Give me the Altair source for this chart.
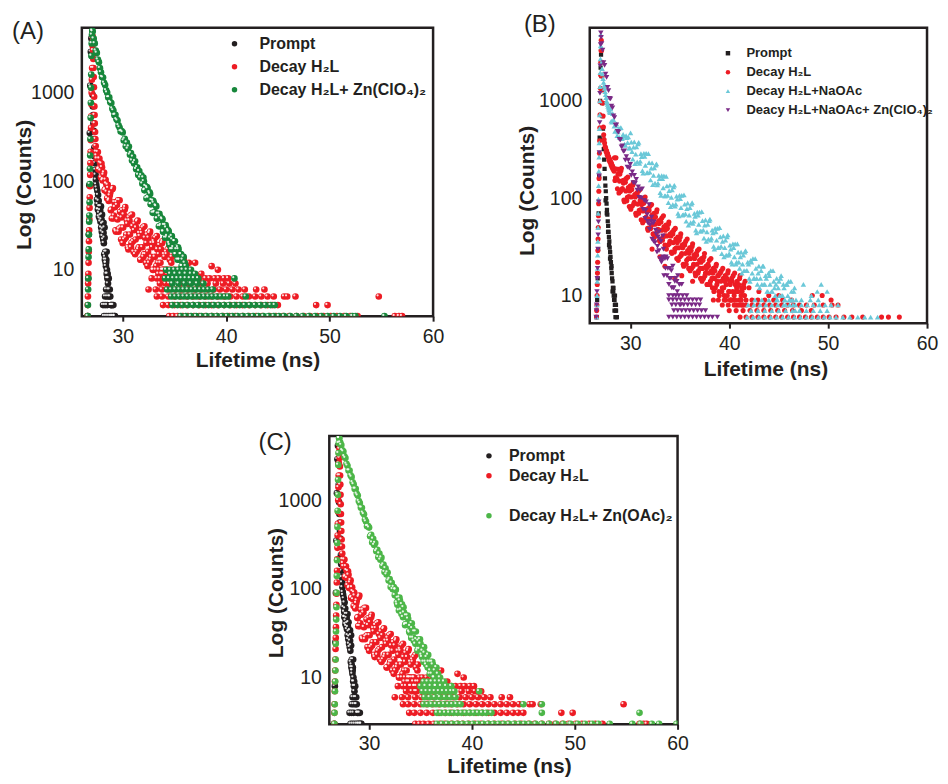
import altair as alt
import pandas as pd

FONT = "Liberation Sans"
INK = "#231f20"

S_PROMPT = "Prompt"
S_H2L = "Decay H\u2082L"
S_ZN_CLO4 = "Decay H\u2082L+ Zn(ClO\u2084)\u2082"
S_NAOAC = "Decay H\u2082L+NaOAc"
S_NAOAC_ZN = "Deacy H\u2082L+NaOAc+ Zn(ClO\u2084)\u2082"
S_ZN_OAC = "Decay H\u2082L+ Zn(OAc)\u2082"
S_GAP = " "

# ------------------------------------------------------------------ panels A and C: prompt and H2L decay (same data)
prompt_ac = [(26.62,3),(26.67,8),(26.72,25),(26.77,90),(26.82,350),(26.87,1200),(26.92,2900),(26.97,4100),
             (27.02,2600),(27.05,1500),(27.08,950),(27.11,700),(27.14,560),(27.17,450),(27.20,370),(27.23,300),
             (27.26,240),(27.29,190),(27.32,160),(27.35,135),(27.38,118),(27.41,104),(27.44,92),
             (27.48,85),(27.52,62),(27.55,78),(27.58,55),(27.62,70),(27.65,48),(27.68,60),(27.72,44),(27.75,52),
             (27.78,38),(27.82,47),(27.85,35),(27.88,41),(27.92,30),(27.95,37),(27.98,27),(28.02,33),(28.05,24),
             (28.08,29),(28.12,22),(28.15,26),(28.18,20),(28.22,15),(28.25,23),(28.28,13),(28.32,16),(28.35,12),
             (28.38,11),(28.42,13),(28.45,9),(28.48,10),(28.52,8),(28.55,9),(28.58,7),(28.62,6),(28.65,8),
             (28.7,5),(28.75,6),(28.8,5),(28.85,4),(28.9,4),(28.95,3),(29.0,4),(29.05,3),(29.1,4),(29.2,3),(29.25,3),
             (28.1,4),(28.3,4),(28.5,4),(28.2,3),(28.4,3),(28.6,3),(28.8,3),(28.4,6),(28.3,5),(28.5,5),
             (28.3,14),(28.4,12),(28.45,16),(27.7,40),(27.9,52),(28.0,42),(28.15,34),(27.6,48),(28.25,30)]

h2l_ac_rise = [(26.60,3),(26.62,4),(26.64,5),(26.66,7),(26.68,9),(26.70,12),(26.72,16),(26.74,21),(26.76,28),
               (26.78,37),(26.80,50),(26.82,66),(26.84,88),(26.86,118),(26.88,160),(26.90,215),(26.92,290),
               (26.94,400),(26.96,540),(26.98,740),(27.00,1000),(27.02,1400),(27.04,1900),(27.06,2600),
               (27.08,3400),(27.10,4300)]
h2l_ac_fast = [(27.12,3800),(27.14,3000),(27.16,2400),(27.18,1900),(27.20,1500),(27.22,1150),(27.24,900),
               (27.26,700),(27.28,560),(27.30,450),(27.33,360),(27.36,300),(27.39,250),(27.42,215),(27.46,195),
               (27.50,180)]
h2l_ac_slow = [(27.6,214),(27.7,139),(27.8,162),(27.9,110),(28.0,144),(28.1,105),(28.2,125),(28.3,81),(28.4,94),
               (28.5,64),(28.6,84),(28.7,62),(28.8,74),(28.9,48),(29.0,81),(29.1,38),(29.2,58),(29.3,28),(29.4,58),
               (29.5,37),(29.6,27),(29.7,61),(29.8,30),(29.9,39),(30.0,20),(30.1,42),(30.2,48),(30.3,23),(30.4,36),
               (30.5,18),(30.6,39),(30.7,25),(30.8,18),(30.9,42),(31.0,21),(31.1,28),(31.2,15),(31.3,30),(31.4,35),
               (31.5,17),(31.6,26),(31.7,13),(31.8,28),(31.9,18),(32.0,14),(32.1,31),(32.2,15),(32.3,20),(32.4,11),
               (32.5,23),(32.6,26),(32.7,13),(32.8,20),(32.9,10),(33.0,21),(33.1,14),(33.2,10),(33.3,24),(33.4,12),
               (33.5,15),(33.6,8),(33.7,17),(33.8,20),(33.9,10),(34.0,15),(34.1,8),(34.2,16),(34.3,10),(34.4,8),
               (34.5,18),(34.6,9),(34.7,12)]
h2l_ac_slow2 = [(27.65,136),(27.75,180),(27.85,132),(27.95,158),(28.05,102),(28.15,118),(28.25,79),(28.35,104),
                (28.45,76),(28.55,91),(28.65,60),(28.75,69),(28.85,47),(28.95,38),(29.05,84),(29.15,41),(29.25,51),
                (29.35,27),(29.45,54),(29.55,61),(29.65,29),(29.75,45),(29.85,22),(29.95,47),(30.05,30),(30.15,22),
                (30.25,51),(30.35,25),(30.45,33),(30.55,17),(30.65,36),(30.75,41),(30.85,20),(30.95,31),(31.05,16),
                (31.15,33),(31.25,22),(31.35,16),(31.45,36),(31.55,18),(31.65,24),(31.75,13),(31.85,26),(31.95,30),
                (32.05,15),(32.15,23),(32.25,12),(32.35,25),(32.45,16),(32.55,12),(32.65,27),(32.75,14),(32.85,18),
                (32.95,10),(33.05,20),(33.15,23),(33.25,11),(33.35,17),(33.45,9),(33.55,19),(33.65,12),(33.75,9),
                (33.85,21),(33.95,10),(34.05,14),(34.15,7),(34.25,15),(34.35,17),(34.45,8),(34.55,13),(34.65,7),
                (34.75,14),(37.0,12),(38.6,11),(36.4,12),(35.9,13)]
h2l_ac_rows = {
    10: [33.5, 33.8, 34.1, 34.4, 34.9, 35.2, 35.6, 36.0, 36.5, 39.2],
    9: [33.9, 34.3, 34.8, 35.3, 35.7, 36.2, 36.8, 37.6],
    8: [32.8, 33.3, 34.0, 34.6, 35.2, 35.8, 36.3, 36.9, 37.4, 38.0, 38.4, 38.9, 39.3, 39.8, 40.2],
    7: [33.6, 34.5, 35.5, 36.4, 37.3, 38.2, 39.0, 39.7, 40.3, 40.9],
    6: [32.5, 33.2, 33.8, 34.5, 35.1, 35.7, 36.3, 37.0, 37.6, 38.2, 38.8, 39.4, 40.0, 40.6, 41.2, 41.8, 42.9, 43.7],
    5: [33.3, 33.8, 34.4, 35.0, 35.6, 36.2, 36.8, 37.4, 38.0, 38.6, 39.2, 39.8, 40.4, 41.0, 41.6, 42.2, 42.8,
        43.4, 44.0, 44.6, 45.6, 45.9, 46.7, 54.75],
    4: [33.9, 34.4, 35.0, 35.6, 36.2, 36.8, 37.4, 38.0, 38.6, 39.2, 39.8, 40.4, 41.0, 41.6, 42.2, 42.8, 43.4,
        44.0, 44.5, 45.0, 48.7, 49.8],
    3: [34.5, 34.9, 35.3, 35.8, 36.3, 36.9, 37.4, 38.0, 38.6, 39.1, 39.7, 40.3, 40.9, 41.6, 42.2, 42.9, 43.5,
        44.2, 44.8, 45.5, 46.1, 46.8, 47.5, 48.1, 48.8, 49.4, 50.1, 50.7, 51.4, 52.0, 52.7, 56.3, 56.7, 57.0],
}

# ------------------------------------------------------------------ panel A: H2L + Zn(ClO4)2
zn_a_rise = [(26.62,3),(26.64,4),(26.66,6),(26.68,8),(26.70,14),(26.72,17),(26.74,25),(26.76,35),(26.78,41),
             (26.80,58),(26.82,93),(26.84,138),(26.86,195),(26.88,300),(26.90,520),(26.92,770),(26.94,1140),
             (26.96,1600),(26.98,2600),(27.00,3600),(27.03,4500),(27.06,5000)]
zn_a_decay = [(27.1,4900),(27.2,4070),(27.3,3600),(27.4,2980),(27.5,2810),(27.6,2360),(27.7,2210),(27.8,1890),
              (27.9,1700),(28.0,1500),(28.1,1480),(28.2,1290),(28.3,1220),(28.4,1060),(28.5,1000),(28.6,883),
              (28.7,884),(28.8,782),(28.9,762),(29.0,660),(29.1,630),(29.2,557),(29.3,562),(29.4,500),(29.5,484),
              (29.6,427),(29.7,405),(29.8,365),(29.9,369),(30.0,356),(30.1,288),(30.2,301),(30.3,248),(30.4,273),
              (30.5,232),(30.6,246),(30.7,199),(30.8,208),(30.9,171),(31.0,189),(31.1,159),(31.2,168),(31.3,137),
              (31.4,144),(31.5,118),(31.6,130),(31.7,110),(31.8,117),(31.9,94),(32.0,110),(32.1,79),(32.2,88),
              (32.3,64),(32.4,83),(32.5,65),(32.6,75),(32.7,55),(32.8,61),(32.9,44),(33.0,57),(33.1,45),(33.2,53),
              (33.3,38),(33.4,43),(33.5,31),(33.6,40),(33.7,32),(33.8,38),(33.9,27),(34.0,32),(34.1,23),(34.2,30),
              (34.3,24),(34.4,28),(34.5,20),(34.6,23),(34.7,17),(34.8,22),(34.9,18),(35.0,21),(35.1,15),(35.2,17),
              (35.3,13),(35.4,17),(35.5,13),(35.6,15),(35.7,11),(35.8,13),
              (32.05,100),(32.15,80),(32.35,86),(32.45,66),(32.65,72),(32.75,55),(32.95,60),(33.05,44),(33.25,52),
              (33.35,38),(33.55,43),(33.65,31),(33.85,37),(33.95,27),(34.15,32),(34.25,23),(34.45,27),(34.55,19),
              (34.75,24),(34.85,17),(35.05,21),(35.15,15),(35.35,18),(35.45,13),(35.65,15),(35.75,11),(35.9,14),
              (36.0,12),(36.1,11)]
zn_a_rows = {
    10: [34.2, 34.6, 35.0, 35.4, 35.8, 36.2, 36.6],
    9: [34.6, 35.1, 35.6, 36.1, 36.6, 37.0],
    8: [34.1, 34.5, 34.9, 35.3, 35.7, 36.1, 36.5, 36.9, 37.3, 40.8],
    7: [34.8, 35.4, 36.0, 36.6, 37.2, 37.8],
    6: [34.3, 34.7, 35.1, 35.5, 35.9, 36.3, 36.7, 37.1, 37.5, 37.9, 38.3, 38.7],
    5: [34.7, 35.1, 35.5, 35.9, 36.3, 36.7, 37.1, 37.5, 37.9, 38.3, 38.7, 39.1, 39.5, 39.9, 40.2, 41.9],
    4: [34.8, 35.3, 35.8, 36.3, 36.8, 37.3, 37.8, 38.3, 38.8, 39.3, 39.8, 40.3, 40.8, 41.3, 41.8, 42.3, 42.8,
        43.3, 43.8, 44.3, 44.7],
    3: [35.6, 36.1, 36.6, 37.1, 37.6, 38.1, 38.6, 39.1, 39.6, 40.1, 40.6, 41.1, 41.6, 42.1, 42.6, 43.1, 43.6,
        44.1, 44.6, 45.1, 45.6, 46.2, 46.8, 47.4, 48.0, 48.6, 49.2, 49.8, 50.4, 51.0, 51.6, 52.2, 52.5, 55.3],
}

# ------------------------------------------------------------------ panel C: H2L + Zn(OAc)2
zn_c_rise = [(26.62,3),(26.64,4),(26.66,5),(26.68,7),(26.70,9),(26.72,12),(26.74,16),(26.76,24),(26.78,33),
             (26.80,45),(26.82,62),(26.84,90),(26.86,140),(26.88,210),(26.90,330),(26.92,500),(26.94,760),
             (26.96,1150),(26.98,1700),(27.00,2500),(27.02,3400),(27.05,4400),(27.08,5000)]
zn_c_decay = [(27.1,5000),(27.2,4460),(27.3,4200),(27.4,3650),(27.5,3540),(27.6,3120),(27.7,2990),(27.8,2570),
              (27.9,2450),(28.0,2160),(28.1,2160),(28.2,1910),(28.3,1830),(28.4,1590),(28.5,1510),(28.6,1340),
              (28.7,1340),(28.8,1180),(28.9,1130),(29.0,980),(29.1,930),(29.2,826),(29.3,822),(29.4,723),
              (29.5,695),(29.6,606),(29.7,575),(29.8,509),(29.9,510),(30.0,491),(30.1,391),(30.2,407),(30.3,333),
              (30.4,366),(30.5,312),(30.6,329),(30.7,265),(30.8,276),(30.9,227),(31.0,250),(31.1,213),(31.2,225),
              (31.3,181),(31.4,188),(31.5,155),(31.6,171),(31.7,145),(31.8,153),(31.9,124),(32.0,129),(32.1,105),
              (32.2,117),(32.3,99),(32.4,105),(32.5,85),(32.6,98),(32.7,70),(32.8,79),(32.9,57),(33.0,74),
              (33.1,58),(33.2,67),(33.3,48),(33.4,54),(33.5,39),(33.6,50),(33.7,40),(33.8,46),(33.9,33),(34.0,38),
              (34.1,28),(34.2,36),(34.3,28),(34.4,33),(34.5,24),(34.6,27),(34.7,20),(34.8,26),(34.9,21),(35.0,24),
              (35.1,18),(35.2,20),(35.3,15),(35.4,19),(35.5,15),(35.6,17),(35.7,13),(35.8,15),(35.9,11),(36.0,15),
              (36.1,11),(36.2,14),(36.3,10),(36.4,12),(36.5,8),
              (32.55,98),(32.75,66),(32.95,80),(33.15,52),(33.35,62),(33.55,40),(33.75,50),(33.95,32),(34.15,41),
              (34.35,26),(34.55,33),(34.75,21),(34.95,27),(35.15,17),(35.35,22),(35.55,14),(35.75,18),(35.95,12),
              (36.15,15),(36.35,10),(36.55,13),(36.7,11),(36.9,10)]
zn_c_rows = {
    9: [35.3, 35.7, 36.1, 36.5, 36.9, 37.3],
    8: [35.0, 35.5, 36.0, 36.5, 37.0, 37.5, 38.0],
    7: [35.2, 35.6, 36.0, 36.4, 36.8, 37.2, 37.6, 38.0, 38.3, 40.7],
    6: [35.4, 35.9, 36.4, 36.9, 37.4, 37.9, 38.4],
    5: [35.3, 35.7, 36.1, 36.5, 36.9, 37.3, 37.7, 38.1, 38.5, 38.9, 45.0, 46.8],
    4: [36.6, 37.0, 37.4, 37.8, 38.2, 38.6, 39.0, 39.4, 39.8, 40.2, 40.6, 41.0, 41.4, 41.9, 46.8, 56.3],
    3: [36.6, 37.1, 37.6, 38.1, 38.6, 39.1, 39.6, 40.1, 40.6, 41.1, 41.6, 42.1, 42.6, 43.1, 43.6, 44.1, 44.6,
        45.1, 45.6, 46.2, 46.8, 47.5, 48.2, 48.9, 49.6, 50.3, 51.0, 51.7, 52.3, 53.4, 55.6, 56.4, 57.5, 58.2, 59.9],
}

# ------------------------------------------------------------------ panel B
prompt_b = [(26.6,6),(26.65,9),(26.7,15),(26.75,30),(26.8,70),(26.85,170),(26.9,420),(26.95,1000),(27.0,2200),
            (27.04,3000),(27.08,1800),(27.12,1300),(27.16,950),(27.2,700),(27.24,520),(27.28,400),(27.32,320),
            (27.36,250),(27.4,200),(27.44,160),(27.48,135),(27.52,118),(27.56,100),(27.6,88),(27.64,76),
            (27.68,68),(27.72,58),(27.76,52),(27.8,45),(27.84,40),(27.88,36),(27.92,31),(27.96,28),(28.0,25),
            (28.04,22),(28.08,19),(28.12,17),(28.16,15),(28.2,14),(28.24,12),(28.28,11),(28.32,10),(28.36,9),
            (28.4,9),(28.44,8),(28.48,8),(28.52,7),(28.56,7),(28.6,6),(28.64,6),
            (27.5,95),(27.62,70),(27.75,45),(27.85,33),(27.95,24),(28.1,20),(28.2,11),(28.3,12),(28.45,10),
            (28.55,8),(28.5,6),(28.4,7)]

h2l_b_early = [(26.58,6),(26.6,7),(26.62,8),(26.64,10),(26.66,13),(26.68,17),(26.7,22),(26.72,29),(26.74,38),
               (26.76,50),(26.78,66),(26.8,88),(26.82,118),(26.84,160),(26.86,215),(26.88,290),(26.9,390),
               (26.92,530),(26.94,720),(26.96,980),(26.98,1350),(27.0,1850),(27.02,2500),(27.04,3300),(27.06,4200),
               (27.1,3300),(27.13,2500),(27.16,1800),(27.19,1300),(27.22,950),(27.25,700),(27.28,540),(27.31,450),
               (27.35,400),(27.4,370),(27.45,340),(27.5,330),(27.55,300),(27.6,310),(27.65,280),(27.7,290),
               (27.75,265),(27.8,270),(27.85,245),(27.9,255),(27.95,235),(28.0,240),(28.05,220),(28.1,228),
               (28.15,208),(28.2,215),(28.25,198),(28.3,205),(28.35,190)]
h2l_b_band = [(28.4,260),(28.5,162),(28.6,200),(28.7,125),(28.8,198),(28.9,150),(29.0,117),(29.1,203),(29.2,126),
              (29.3,143),(29.4,92),(29.5,146),(29.6,160),(29.7,102),(29.8,129),(29.9,82),(30.0,134),(30.1,103),
              (30.2,83),(30.3,145),(30.4,91),(30.5,103),(30.6,67),(30.7,107),(30.8,118),(30.9,75),(31.0,95),
              (31.1,60),(31.2,97),(31.3,74),(31.4,59),(31.5,103),(31.6,64),(31.7,73),(31.8,47),(31.9,75),(32.0,83),
              (32.1,53),(32.2,67),(32.3,43),(32.4,70),(32.5,54),(32.6,43),(32.7,76),(32.8,48),(32.9,55),(33.0,36),
              (33.1,57),(33.2,63),(33.3,40),(33.4,51),(33.5,33),(33.6,53),(33.7,41),(33.8,33),(33.9,57),(34.0,36),
              (34.1,41),(34.2,27),(34.3,43),(34.4,47),(34.5,30),(34.6,38),(34.7,24),(34.8,40),(34.9,31),(35.0,25),
              (35.1,43),(35.2,27),(35.3,31),(35.4,20),(35.5,33),(35.6,36),(35.7,23),(35.8,29),(35.9,19),(36.0,31),
              (36.1,24),(36.2,19),(36.3,34),(36.4,21),(36.5,24),(36.6,16),(36.7,26),(36.8,29),(36.9,18),(37.0,23),
              (37.1,15),(37.2,24),(37.3,19),(37.4,15),(37.5,27),(37.6,17),(37.7,19),(37.8,13),(37.9,20),(38.0,23),
              (38.1,14),(38.2,18),(38.3,12),(38.4,19),(38.5,15),(38.6,12),(38.7,21),(38.8,14),(38.9,16),(39.0,10),
              (39.1,17),(39.2,18),(39.3,12),(39.4,15),(39.5,10),(39.6,16),(39.7,13),(39.8,10),(39.9,18),(40.0,11),
              (40.1,13),(40.2,9),(40.3,14),(40.4,16),(40.5,10),(40.6,13),(40.7,8),(40.8,14),(40.9,11),(41.0,9),
              (41.1,16),(41.2,10),(41.3,11),(41.4,8),(41.5,12),(41.6,14)]
h2l_b_band2 = [(28.45,152),(28.55,260),(28.65,159),(28.75,177),(28.85,113),(28.95,177),(29.05,192),(29.15,122),
               (29.25,152),(29.35,96),(29.45,155),(29.55,119),(29.65,94),(29.75,165),(29.85,104),(29.95,119),
               (30.05,77),(30.15,123),(30.25,136),(30.35,87),(30.45,109),(30.55,70),(30.65,113),(30.75,87),
               (30.85,70),(30.95,122),(31.05,76),(31.15,86),(31.25,56),(31.35,89),(31.45,97),(31.55,62),(31.65,77),
               (31.75,49),(31.85,79),(31.95,61),(32.05,49),(32.15,86),(32.25,54),(32.35,62),(32.45,40),(32.55,64),
               (32.65,72),(32.75,46),(32.85,58),(32.95,37),(33.05,60),(33.15,47),(33.25,37),(33.35,66),(33.45,41),
               (33.55,47),(33.65,30),(33.75,49),(33.85,54),(33.95,34),(34.05,43),(34.15,28),(34.25,45),(34.35,35),
               (34.45,28),(34.55,49),(34.65,31),(34.75,35),(34.85,23),(34.95,37),(35.05,40),(35.15,26),(35.25,33),
               (35.35,21),(35.45,34),(35.55,27),(35.65,21),(35.75,38),(35.85,24),(35.95,27),(36.05,18),(36.15,29),
               (36.25,32),(36.35,20),(36.45,26),(36.55,17),(36.65,27),(36.75,21),(36.85,17),(36.95,30),(37.05,19),
               (37.15,22),(37.25,14),(37.35,23),(37.45,25),(37.55,16),(37.65,20),(37.75,13),(37.85,21),(37.95,17),
               (38.05,13),(38.15,24),(38.25,15),(38.35,17),(38.45,11),(38.55,18),(38.65,20),(38.75,13),(38.85,16),
               (38.95,11),(39.05,17),(39.15,14),(39.25,11),(39.35,19),(39.45,12),(39.55,14),(39.65,9),(39.75,15),
               (39.85,17),(39.95,11),(40.05,14),(40.15,9),(40.25,15),(40.35,11),(40.45,9),(40.55,17),(40.65,11),
               (40.75,12),(40.85,8),(40.95,13),(41.05,15),(41.15,9),(41.25,12),(41.35,8),(41.45,13),(41.55,10),
               (48.4,10),(49.4,10),(50.3,9),(42.0,12),(43.0,11),(44.0,10),(45.0,10),
               (33.5,20),(34.5,15),(35.2,16),(36.3,14),(33.0,25),(32.2,30)]
h2l_b_rows = {
    9: [38.4, 38.9, 39.5, 40.1, 40.6, 41.2, 41.7, 42.3, 42.9, 43.6, 44.5, 45.4, 46.3],
    8: [39.3, 39.9, 40.5, 41.1, 41.7, 42.3, 42.9, 43.5, 44.1, 44.7, 45.3, 45.9, 46.5, 47.1, 47.8, 48.6, 49.5,
        50.4, 51.0],
    7: [40.0, 40.7, 41.4, 42.1, 42.8, 43.5, 44.2, 44.9, 45.6, 46.4, 47.3, 48.3],
    6: [41.1, 41.7, 42.3, 42.9, 43.5, 44.1, 44.7, 45.3, 45.9, 46.5, 47.1, 47.7, 48.3, 48.9, 49.5, 50.1, 50.8,
        51.6, 52.4, 53.5, 55.4, 56.1, 57.2],
}

naoac_b_early = [(26.6,6),(26.62,8),(26.64,10),(26.66,14),(26.68,19),(26.7,26),(26.72,36),(26.74,50),(26.76,70),
                 (26.78,98),(26.8,135),(26.82,190),(26.84,265),(26.86,370),(26.88,520),(26.9,720),(26.92,1000),
                 (26.94,1400),(26.96,1950),(26.98,2700),(27.0,3700),(27.02,4800),
                 (27.05,3600),(27.1,2500),(27.15,2150),(27.2,1900),(27.25,1700),(27.3,1550),(27.35,1440),
                 (27.4,1350),(27.45,1250),(27.5,1160),(27.55,1080),(27.6,1000),(27.65,960),(27.7,920),(27.75,880),
                 (27.8,845),(27.85,810),(27.9,780),(27.95,760)]
naoac_b_band = [(28.0,827),(28.15,607),(28.3,641),(28.45,488),(28.6,581),(28.75,480),(28.9,423),(29.05,532),
                (29.2,415),(29.35,432),(29.5,349),(29.65,419),(29.8,426),(29.95,329),(30.1,378),(30.25,252),
                (30.4,380),(30.55,284),(30.7,237),(30.85,375),(31.0,240),(31.15,267),(31.3,181),(31.45,270),
                (31.6,290),(31.75,183),(31.9,232),(32.05,154),(32.2,231),(32.35,172),(32.5,143),(32.65,225),
                (32.8,143),(32.95,159),(33.1,107),(33.25,159),(33.4,170),(33.55,106),(33.7,134),(33.85,90),
                (34.0,136),(34.15,102),(34.3,86),(34.45,136),(34.6,87),(34.75,98),(34.9,66),(35.05,99),(35.2,107),
                (35.35,68),(35.5,87),(35.65,58),(35.8,89),(35.95,67),(36.1,56),(36.25,90),(36.4,58),(36.55,65),
                (36.7,44),(36.85,67),(37.0,72),(37.15,46),(37.3,59),(37.45,39),(37.6,60),(37.75,45),(37.9,38),
                (38.05,61),(38.2,39),(38.35,44),(38.5,30),(38.65,45),(38.8,49),(38.95,31),(39.1,40),(39.25,27),
                (39.4,41),(39.55,31),(39.7,26),(39.85,42),(40.0,27),(40.15,30),(40.3,21),(40.45,31),(40.6,34),
                (40.75,22),(40.9,28),(41.05,19),(41.2,28),(41.35,21),(41.5,18),(41.65,29),(41.8,18),(41.95,21),
                (42.1,14),(42.25,22),(42.4,24),(42.55,15),(42.7,19),(42.85,13),(43.0,20),(43.15,15),(43.3,13),
                (43.45,20),(43.6,13),(43.75,15),(43.9,11),(44.05,16),(44.2,18),(44.35,11),(44.5,14),(44.65,10),
                (44.8,15),(44.95,12),(45.1,10),(45.25,16),(45.4,10),(45.55,12),(45.7,8),(45.85,13),(46.0,14),
                (46.15,9),(46.3,11),(46.45,8),(46.6,12),(46.75,9)]
naoac_b_band2 = [(28.075,620),(28.225,741),(28.375,550),(28.525,556),(28.675,439),(28.825,520),(28.975,529),
                 (29.125,409),(29.275,454),(29.425,361),(29.575,439),(29.725,372),(29.875,327),(30.025,471),
                 (30.175,302),(30.325,336),(30.475,227),(30.625,338),(30.775,363),(30.925,228),(31.075,288),
                 (31.225,192),(31.375,290),(31.525,218),(31.675,182),(31.825,288),(31.975,185),(32.125,204),
                 (32.275,138),(32.425,205),(32.575,219),(32.725,137),(32.875,172),(33.025,114),(33.175,171),
                 (33.325,128),(33.475,106),(33.625,168),(33.775,107),(33.925,120),(34.075,82),(34.225,122),
                 (34.375,131),(34.525,83),(34.675,105),(34.825,70),(34.975,107),(35.125,80),(35.275,67),
                 (35.425,108),(35.575,69),(35.725,78),(35.875,53),(36.025,80),(36.175,87),(36.325,55),(36.475,70),
                 (36.625,47),(36.775,72),(36.925,54),(37.075,46),(37.225,73),(37.375,47),(37.525,53),(37.675,36),
                 (37.825,54),(37.975,59),(38.125,37),(38.275,47),(38.425,32),(38.575,49),(38.725,37),(38.875,31),
                 (39.025,50),(39.175,32),(39.325,36),(39.475,25),(39.625,37),(39.775,40),(39.925,26),(40.075,33),
                 (40.225,22),(40.375,34),(40.525,25),(40.675,21),(40.825,34),(40.975,22),(41.125,25),(41.275,17),
                 (41.425,26),(41.575,28),(41.725,18),(41.875,22),(42.025,15),(42.175,23),(42.325,17),(42.475,15),
                 (42.625,24),(42.775,15),(42.925,17),(43.075,12),(43.225,18),(43.375,20),(43.525,13),(43.675,16),
                 (43.825,11),(43.975,17),(44.125,13),(44.275,11),(44.425,18),(44.575,12),(44.725,13),(44.875,9),
                 (45.025,14),(45.175,15),(45.325,10),(45.475,13),(45.625,9),(45.775,13),(45.925,10),(46.075,9),
                 (46.225,14),(46.375,9),(46.525,11),(46.675,7),
                 (47.5,13),(48.3,10),(49.3,13),(49.9,11),(48.9,11)]
naoac_b_rows = {
    9: [42.6, 43.3, 44.0, 44.8, 45.6, 46.4, 47.3, 48.2, 49.0],
    8: [41.9, 42.5, 43.1, 43.7, 44.3, 44.9, 45.5, 46.1, 46.7, 47.3, 47.9, 48.5, 49.1, 49.7, 50.3, 51.0],
    7: [42.2, 42.9, 43.6, 44.3, 45.0, 45.7, 46.4, 47.1, 47.8, 48.5, 49.2, 49.9],
    6: [41.8, 42.4, 43.0, 43.6, 44.2, 44.8, 45.4, 46.0, 46.6, 47.2, 47.8, 48.4, 49.0, 49.6, 50.2, 50.8, 51.5,
        52.2, 53.0, 53.7, 54.3, 55.0],
}

zn_b_decay = [(26.55,6),(26.58,7),(26.6,8),(26.63,11),(26.66,15),(26.69,19),(26.72,30),(26.75,42),(26.78,57),
              (26.81,92),(26.84,170),(26.87,295),(26.9,600),(26.93,1200),(26.96,2300),(26.99,3800),(27.02,5000),
              (27.05,4500),(27.1,3890),(27.2,3330),(27.3,2480),(27.4,2320),(27.5,1890),(27.6,1750),(27.7,1380),
              (27.8,1280),(27.9,1060),(28.0,1050),(28.1,887),(28.2,850),(28.3,701),(28.4,676),(28.5,566),
              (28.6,569),(28.7,486),(28.8,478),(28.9,403),(29.0,397),(29.1,337),(29.2,345),(29.3,303),(29.4,306),
              (29.5,247),(29.6,268),(29.7,209),(29.8,246),(29.9,204),(30.0,223),(30.1,172),(30.2,187),(30.3,145),
              (30.4,172),(30.5,143),(30.6,156),(30.7,121),(30.8,131),(30.9,102),(31.0,121),(31.1,101),(31.2,125),
              (31.3,77),(31.4,95),(31.5,62),(31.6,92),(31.7,68),(31.8,55),(31.9,86),(32.0,53),(32.1,58),(32.2,38),
              (32.3,55),(32.4,57),(32.5,35),(32.6,43),(32.7,28),(32.8,40),(32.9,29),(33.0,24),(33.1,36),(33.2,23),
              (33.3,25),(33.4,16),(33.5,24),(33.6,25),(33.7,16),(33.8,19),(33.9,13),(34.0,19),(34.1,15),(34.2,12),
              (34.3,20),(34.4,12),(34.5,14),(34.6,10),(34.7,14),(34.8,16),(34.9,10),(35.0,13),(35.1,8),(35.2,13),
              (31.55,75),(31.75,58),(31.95,48),(32.15,64),(32.35,36),(32.55,47),(32.75,32),(32.95,38),(33.15,22),
              (33.35,30),(33.55,19),(33.75,24),(33.95,15),(34.15,18),(34.35,12),(34.55,15),(34.75,11),(34.95,13),
              (33.3,41),(32.9,45)]
zn_b_rows = {
    10: [33.9, 34.3, 35.3, 35.7],
    9: [33.9, 34.3, 34.7, 35.1, 35.5, 35.9, 36.3, 36.7, 37.1],
    8: [34.2, 34.6, 35.0, 35.4, 35.8, 36.2, 36.6, 37.0],
    7: [34.4, 34.8, 35.2, 35.6, 36.0, 36.4, 36.8, 37.2, 37.6],
    6: [33.9, 34.3, 34.7, 35.1, 35.5, 35.9, 36.3, 36.7, 37.1, 37.5, 37.9, 38.3, 38.8],
}

X_TICKS = [30, 40, 50, 60]
Y_TICKS = [10, 100, 1000]


def frame(series, *groups):
    recs = []
    for g in groups:
        if isinstance(g, dict):
            for c, ts in g.items():
                recs += [{"series": series, "t": t, "c": c} for t in ts]
        else:
            recs += [{"series": series, "t": t, "c": c} for t, c in g]
    return pd.DataFrame(recs)


def x_axis(tx, ty, lpad):
    return alt.Axis(values=X_TICKS, format="d", tickSize=5, tickWidth=2, tickColor=INK, labelPadding=lpad,
                    labelFlush=False, labelFontSize=19.5, labelColor=INK, titleFontSize=21,
                    titleFontWeight="bold", titleColor=INK, titleX=tx, titleY=ty, titleAlign="center",
                    titleBaseline="alphabetic", grid=False, domain=False)


def y_axis(tx, ty):
    return alt.Axis(values=Y_TICKS, format="d", ticks=False, labelPadding=8, labelFontSize=19.5,
                    labelColor=INK, titleFontSize=21, titleFontWeight="bold", titleColor=INK, titleX=tx,
                    titleY=ty, titleAngle=270, titleAlign="center", titleBaseline="bottom", grid=False,
                    domain=False)


one = pd.DataFrame({"k": [0]})


def extras(tag, tag_xy, W, H, box):
    L, T, R, B = box
    txt = alt.Chart(one).mark_text(align="left", baseline="alphabetic", font=FONT, fontSize=24,
                                   color=INK).encode(x=alt.value(tag_xy[0]), y=alt.value(tag_xy[1]),
                                                     text=alt.value(tag))
    rule = alt.Chart(one).mark_rule(color="white", strokeOpacity=0).encode(
        x=alt.value(-L), x2=alt.value(W + R), y=alt.value(-T), y2=alt.value(H + B))
    return [txt, rule]


def sphere_panel(parts, names, colors, xdom, ydom, W, H, box, tag, tag_xy, leg, xt, yt):
    X = alt.X("t:Q", scale=alt.Scale(domain=xdom, nice=False, zero=False), axis=x_axis(*xt), title="Lifetime (ns)")
    Y = alt.Y("c:Q", scale=alt.Scale(type="log", domain=ydom, nice=False), axis=y_axis(*yt), title="Log (Counts)")
    cs = alt.Scale(domain=names, range=colors)
    layers = []
    for df in parts:
        layers.append(alt.Chart(df).mark_circle(size=44, opacity=1, clip=True).encode(
            x=X, y=Y, color=alt.Color("series:N", scale=cs, legend=leg, title=None)))
        layers.append(alt.Chart(df).mark_circle(size=5, opacity=0.85, color="white", clip=True,
                                                xOffset=-1.2, yOffset=-1.2).encode(x=X, y=Y))
    layers += extras(tag, tag_xy, W, H, box)
    return alt.layer(*layers).properties(width=W, height=H)


def flat_panel(parts, names, colors, shapes, sizes, xdom, ydom, W, H, box, tag, tag_xy, leg, xt, yt):
    X = alt.X("t:Q", scale=alt.Scale(domain=xdom, nice=False, zero=False), axis=x_axis(*xt), title="Lifetime (ns)")
    Y = alt.Y("c:Q", scale=alt.Scale(type="log", domain=ydom, nice=False), axis=y_axis(*yt), title="Log (Counts)")
    cs = alt.Scale(domain=names, range=colors)
    ss = alt.Scale(domain=names, range=shapes)
    layers = []
    for df, sz in zip(parts, sizes):
        layers.append(alt.Chart(df).mark_point(filled=True, size=sz, opacity=1, clip=True).encode(
            x=X, y=Y,
            color=alt.Color("series:N", scale=cs, legend=leg, title=None),
            shape=alt.Shape("series:N", scale=ss, legend=leg, title=None)))
    layers += extras(tag, tag_xy, W, H, box)
    return alt.layer(*layers).properties(width=W, height=H)


def legend(x, y, fs, offset, rowpad, sym):
    return alt.Legend(orient="none", legendX=x, legendY=y, labelFont=FONT, labelFontSize=fs,
                      labelFontWeight="bold", labelColor=INK, labelOffset=offset, rowPadding=rowpad,
                      padding=0, symbolSize=sym, labelLimit=300)


BLACK, RED = "#231f20", "#ed1c24"
GREEN_A, GREEN_C = "#17873b", "#4cb648"
CYAN, PURPLE = "#6bc8d8", "#7a2a86"

# Panel A
dfA = [frame(S_PROMPT, prompt_ac),
       frame(S_H2L, h2l_ac_rise, h2l_ac_fast, h2l_ac_slow, h2l_ac_slow2, h2l_ac_rows),
       frame(S_ZN_CLO4, zn_a_rise, zn_a_decay, zn_a_rows)]
panelA = sphere_panel(dfA, [S_PROMPT, S_H2L, S_ZN_CLO4], [BLACK, RED, GREEN_A],
                      [26.05, 60], [3, 5400], 352, 289, (72, 17, 20, 86), "(A)", (-70, 11),
                      legend(145, 8, 16, 17, 7, 30), (176, 50, 6), (-47, 157))

# Panel B
dfB = [frame(S_PROMPT, prompt_b),
       frame(S_H2L, h2l_b_early, h2l_b_band, h2l_b_band2, h2l_b_rows),
       frame(S_NAOAC, naoac_b_early, naoac_b_band, naoac_b_band2, naoac_b_rows),
       frame(S_NAOAC_ZN, zn_b_decay, zn_b_rows)]
panelB = flat_panel(dfB, [S_PROMPT, S_H2L, S_NAOAC, S_NAOAC_ZN], [BLACK, RED, CYAN, PURPLE],
                    ["square", "circle", "triangle-up", "triangle-down"], [18, 26, 30, 30],
                    [25.9, 60], [5.2, 5650], 338, 296, (133, 17, 11, 79), "(B)", (-66, 4),
                    legend(132, 19, 13, 12, 5, 20), (176, 52, 6), (-52, 163))

# Panel C
dfC = [frame(S_PROMPT, prompt_ac),
       frame(S_H2L, h2l_ac_rise, h2l_ac_fast, h2l_ac_slow, h2l_ac_slow2, h2l_ac_rows),
       frame(S_ZN_OAC, zn_c_rise, zn_c_decay, zn_c_rows)]
panelC = sphere_panel(dfC, [S_PROMPT, S_H2L, S_GAP, S_ZN_OAC], [BLACK, RED, "transparent", GREEN_C],
                      [26.13, 60], [2.97, 5310], 349, 289, (72, 30, 10, 52), "(C)", (-71, 14),
                      legend(152, 12, 16, 12, 4, 30), (180, 48, 5), (-43, 157))

# invisible spacer that pushes panel C to the right in the bottom row
spacer = alt.Chart(one).mark_rule(color="white", strokeOpacity=0).encode(
    x=alt.value(-72), x2=alt.value(172), y=alt.value(0), y2=alt.value(1)
).properties(width=172, height=1, view=alt.ViewBackground(stroke="transparent"))

top = alt.hconcat(panelA, panelB, spacing=0).resolve_scale(
    x="independent", y="independent", color="independent", shape="independent")
bottom = alt.hconcat(spacer, panelC, spacing=0).resolve_scale(
    x="independent", y="independent", color="independent", shape="independent")
chart = alt.vconcat(top, bottom, spacing=0).resolve_scale(
    x="independent", y="independent", color="independent", shape="independent").properties(padding=0)
chart = chart.configure(font=FONT).configure_view(stroke=INK, strokeWidth=2.5).configure_axis(
    labelFont=FONT, titleFont=FONT)

chart.save("out.html", embed_options={"renderer": "svg", "actions": False})
